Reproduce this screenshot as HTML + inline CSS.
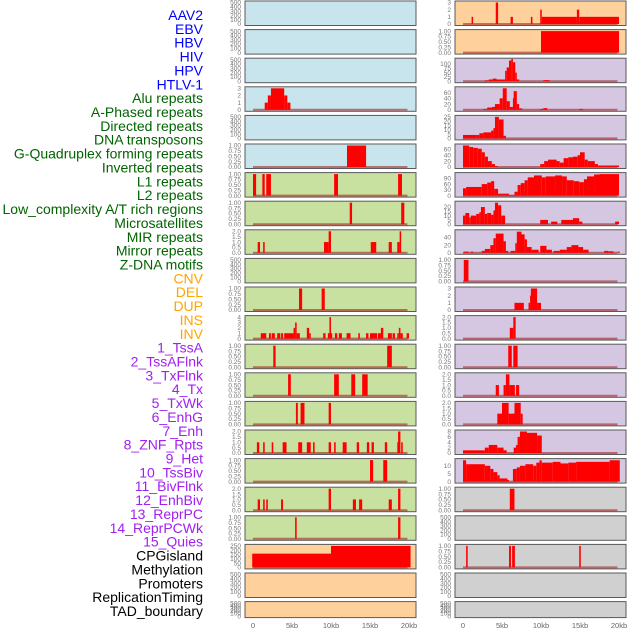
<!DOCTYPE html>
<html><head><meta charset="utf-8"><style>
html,body{margin:0;padding:0;background:#fff;}
svg{display:block;font-family:"Liberation Sans",sans-serif;}
</style></head><body>
<svg id="chart" width="630" height="630" viewBox="0 0 630 630" xmlns="http://www.w3.org/2000/svg">
<g id="labels"></g>
<g id="panels"></g>
<g id="xaxes"></g>
</svg>
<script>
const trackNames = ["AAV2","EBV","HBV","HIV","HPV","HTLV-1","Alu repeats","A-Phased repeats","Directed repeats","DNA transposons","G-Quadruplex forming repeats","Inverted repeats","L1 repeats","L2 repeats","Low_complexity A/T rich regions","Microsatellites","MIR repeats","Mirror repeats","Z-DNA motifs","CNV","DEL","DUP","INS","INV","1_TssA","2_TssAFlnk","3_TxFlnk","4_Tx","5_TxWk","6_EnhG","7_Enh","8_ZNF_Rpts","9_Het","10_TssBiv","11_BivFlnk","12_EnhBiv","13_ReprPC","14_ReprPCWk","15_Quies","CPGisland","Methylation","Promoters","ReplicationTiming","TAD_boundary"];
const trackColors = ["#0000ff","#006400","#ffa500","#a020f0","#000000"];
const trackGroup = [0,0,0,0,0,0,1,1,1,1,1,1,1,1,1,1,1,1,1,2,2,2,2,2,3,3,3,3,3,3,3,3,3,3,3,3,3,3,3,4,4,4,4,4];
const xTicks = [0,5,10,15,20];
const xTickLabels = ["0","5kb","10kb","15kb","20kb"];
const bgLeft = ["#c8e4ec","#c8e4ec","#c8e4ec","#c8e4ec","#c8e4ec","#c8e4ec","#c8e0a0","#c8e0a0","#c8e0a0","#c8e0a0","#c8e0a0","#c8e0a0","#c8e0a0","#c8e0a0","#c8e0a0","#c8e0a0","#c8e0a0","#c8e0a0","#c8e0a0","#fed09c","#fed09c","#fed09c"];
const bgRight = ["#fed09c","#fed09c","#d5c6e2","#d5c6e2","#d5c6e2","#d5c6e2","#d5c6e2","#d5c6e2","#d5c6e2","#d5c6e2","#d5c6e2","#d5c6e2","#d5c6e2","#d5c6e2","#d5c6e2","#d5c6e2","#d5c6e2","#d0d0d0","#d0d0d0","#d0d0d0","#d0d0d0","#d0d0d0"];
const T500=[0,100,200,300,400,500], T1=[0,0.25,0.5,0.75,1], T2=[0,0.5,1,1.5,2];
// per-panel y tick values [left column], [right column]
const ticksLeft = [T500,T500,T500,[0,1,2,3],T500,T1,T1,T1,T2,T500,T1,[0,1,2,3,4],T1,T1,T1,T2,T1,T2,T1,[0,50,100,150,200,250],T500,T500];
const ticksRight = [[0,1,2,3],T1,[0,25,50,75,100],[0,20,40,60],[0,5,10,15,20,25],[0,20,40,60],[0,30,60,90],[0,5,10,15,20],[0,20,40],T1,[0,1,2,3],T2,T1,T2,T2,[0,2,4,6,8],[0,5,10],T1,T500,T1,T500,T500];
const maxLeft = [500,500,500,3,500,1,1,1,2,500,1,4,1,1,1,2,1,2,1,250,500,500];
const maxRight = [3,1,125,75,25,73,112,25,56,1,3,2,1,2,2,8,13.6,1,500,1,500,500];
// segments [startKb, endKb, value]
const segsLeft = [
 [],[],[],
 [[1.5,1.9,1],[1.9,2.3,2],[2.3,4.0,3],[4.0,4.4,2],[4.4,4.8,1]],
 [],
 [[12.05,14.5,1]],
 [[0,0.4,1],[1.2,1.5,1],[1.7,2.3,1],[10.4,10.9,1],[18.6,19.1,1]],
 [[12.4,12.7,1],[19.0,19.4,1]],
 [[0.6,0.9,1],[1.3,1.5,1],[9.1,9.7,1],[9.7,10.0,2],[15.1,15.8,1],[17.4,17.8,1],[18.5,18.8,1],[18.8,19.0,2]],
 [],
 [[5.9,6.3,1],[8.8,9.2,1]],
 [[1.0,1.7,1],[2.05,2.3,1],[2.4,2.8,1],[3.1,3.5,1],[3.6,3.85,1],[4.0,5.2,1],[5.2,5.4,2],[5.4,5.6,3],[5.6,6.0,1],[6.9,7.2,2],[7.2,7.4,1],[9.0,9.3,1],[9.6,9.8,1],[9.8,10.0,4],[10.0,10.1,1],[10.5,10.8,1],[11.0,11.4,1],[12.0,12.5,1],[13.5,13.7,1],[14.5,14.8,1],[15.0,15.9,1],[16.0,16.4,1],[16.4,16.7,2],[17.3,17.8,1],[17.9,18.2,1],[18.5,18.7,1],[18.7,18.9,2],[18.9,19.2,1],[19.7,20.0,1]],
 [[2.6,2.9,1],[17.2,17.8,1]],
 [[4.5,4.85,1],[10.4,11.0,1],[12.6,13.1,1],[14.0,14.7,1]],
 [[5.5,5.75,1],[6.1,6.6,1],[9.7,10.0,1]],
 [[0.5,0.8,1],[1.3,1.5,1],[2.4,2.6,1],[3.8,4.3,1],[5.8,6.3,1],[6.9,7.4,1],[7.7,7.9,1],[9.7,10.0,1],[10.4,10.6,1],[11.5,12.0,1],[13.3,13.6,1],[14.6,14.9,1],[15.2,15.5,1],[16.9,17.2,1],[18.5,18.6,1],[18.6,18.9,2],[19.0,19.2,1]],
 [[15.0,15.4,1],[16.7,17.2,1]],
 [[0.6,0.9,1],[1.3,1.5,1],[1.7,1.9,1],[3.6,3.85,1],[9.7,10.0,2],[12.8,13.2,1],[13.6,14.0,1],[17.4,17.8,1],[18.6,18.9,2]],
 [[5.4,5.6,1],[18.6,18.9,1]],
 [[-0.1,10.0,160],[10.0,20.2,250]],
 [],[]
];
const segsRight = [
 [[1.1,1.3,1],[4.2,4.5,3],[6.1,6.4,1],[8.7,8.9,1],[9.9,10.1,2],[10.1,14.6,1],[14.6,14.9,2],[14.9,20.0,1]],
 [[10.0,20.0,1]],
 [[2.8,3.3,5],[3.3,3.8,10],[3.8,4.3,15],[4.3,5.4,10],[5.4,5.6,60],[5.6,5.9,80],[5.9,6.2,120],[6.2,6.4,130],[6.4,6.7,110],[6.7,6.9,50],[6.9,7.2,10],[10.3,11.1,6]],
 [[2.6,3.1,3],[3.1,3.7,8],[3.7,4.1,10],[4.1,4.7,20],[4.7,5.1,40],[5.1,5.6,75],[5.6,6.0,30],[6.0,6.4,10],[6.4,6.5,40],[6.5,6.9,65],[6.9,7.2,20],[7.2,7.6,5],[9.9,10.3,3],[10.3,10.8,6],[14.9,15.4,3]],
 [[0,1.7,4],[1.7,2.1,4],[2.1,2.6,6],[2.6,3.6,7],[3.6,3.9,9],[3.9,4.1,12],[4.1,4.6,25],[4.6,5.2,22],[5.2,5.5,3]],
 [[0,0.8,73],[0.8,1.3,68],[1.3,1.9,65],[1.9,2.4,62],[2.4,2.8,50],[2.8,3.2,35],[3.2,3.7,20],[3.7,4.1,10],[4.1,4.5,3],[9.9,10.4,10],[10.4,10.9,20],[10.9,12.0,25],[12.0,12.4,20],[12.4,12.9,15],[12.9,13.5,30],[13.5,14.1,33],[14.1,14.7,35],[14.7,15.0,40],[15.0,15.6,50],[15.6,16.0,25],[16.0,16.9,20],[16.9,17.3,10],[17.3,20.0,5]],
 [[0,0.4,38],[0.4,2.4,45],[2.4,3.1,60],[3.1,3.6,68],[3.6,4.0,75],[4.0,4.5,35],[4.5,5.9,10],[5.9,6.6,3],[6.6,7.0,20],[7.0,7.4,55],[7.4,7.9,65],[7.9,8.3,80],[8.3,9.1,95],[9.1,10.1,105],[10.1,10.6,95],[10.6,11.8,100],[11.8,12.7,105],[12.7,13.3,100],[13.3,14.2,80],[14.2,14.9,75],[14.9,15.5,70],[15.5,15.9,85],[15.9,16.8,100],[16.8,17.5,110],[17.5,20.0,112]],
 [[0,0.3,10],[0.3,0.8,13],[0.8,1.0,8],[1.0,1.7,10],[1.7,2.1,12],[2.1,2.3,14],[2.3,2.8,20],[2.8,3.1,12],[3.1,3.6,13],[3.6,3.9,11],[3.9,4.1,16],[4.1,4.5,25],[4.5,4.9,22],[4.9,5.4,10],[9.9,10.9,5],[11.3,12.1,3],[12.6,14.1,5],[14.1,14.9,7],[14.9,15.3,3],[19.5,20.0,3]],
 [[0.1,0.7,3],[1.0,1.3,3],[2.4,2.8,5],[2.8,3.5,10],[3.5,3.9,20],[3.9,4.2,38],[4.2,5.2,50],[5.2,5.5,30],[5.5,5.8,5],[6.1,6.7,5],[6.7,6.9,25],[6.9,7.5,55],[7.5,7.9,48],[7.9,8.2,35],[8.2,8.8,15],[8.8,9.7,8],[9.9,10.7,18],[10.7,11.4,8],[11.6,12.4,5],[12.4,13.3,8],[13.3,13.9,15],[13.9,14.8,20],[14.8,15.4,15],[15.4,16.1,8],[18.1,18.6,5],[18.6,19.3,4],[19.8,20.1,3]],
 [[0.1,0.7,1]],
 [[6.6,7.8,1],[8.4,8.6,1],[8.6,8.7,2],[8.7,9.5,3],[9.5,10.0,1]],
 [[6.0,6.45,1],[6.45,6.75,2]],
 [[5.8,6.25,1],[6.45,7.0,1]],
 [[4.2,4.6,1],[5.2,5.5,1],[5.5,5.95,2],[5.95,6.65,1],[6.8,7.2,1]],
 [[4.4,5.0,1],[5.0,5.85,2],[5.85,6.6,1],[6.6,7.4,2],[7.4,7.65,1]],
 [[0,2.8,1],[2.8,3.3,2],[3.3,4.4,3],[4.4,5.2,2],[5.2,5.6,1],[6.5,6.8,2],[6.8,7.0,3],[7.0,7.3,6],[7.3,8.2,8],[8.2,9.5,7.5],[9.5,10.1,6.5]],
 [[0,0.4,13.5],[0.4,2.8,11],[2.8,3.5,10],[3.5,3.9,8],[3.9,4.4,6],[4.4,4.7,4],[4.7,5.7,2],[5.7,5.9,1],[6.4,6.9,8],[6.9,7.3,9],[7.3,8.0,10],[8.0,9.0,11],[9.0,9.4,10],[9.4,9.8,12],[9.8,10.1,13.5],[10.1,11.5,12],[11.5,12.5,12.5],[12.5,13.5,11.5],[13.5,14.5,12],[14.5,18.8,12.5],[18.8,20.1,13.5]],
 [[6.0,6.6,1]],
 [],
 [[0.4,0.6,1],[5.9,6.15,1],[6.3,6.65,1],[14.9,15.1,1]],
 [],[]
];
const NS="http://www.w3.org/2000/svg";
function mk(tag, attrs, parent){const e=document.createElementNS(NS,tag);for(const k in attrs)e.setAttribute(k,attrs[k]);parent.appendChild(e);return e;}
const labelsG=document.getElementById('labels'), panelsG=document.getElementById('panels'), xG=document.getElementById('xaxes');
trackNames.forEach((n,i)=>{
  const t=mk('text',{x:203,y:15+i*13.86+5,'text-anchor':'end','font-size':'14',fill:trackColors[trackGroup[i]]},labelsG);
  t.textContent=n;
  
  
});
const cols=[{x0:245,w:171,bg:bgLeft,ticks:ticksLeft,max:maxLeft,segs:segsLeft,name:'left'},{x0:455,w:171,bg:bgRight,ticks:ticksRight,max:maxRight,segs:segsRight,name:'right'}];
cols.forEach(c=>{
  const xs=kb=>c.x0+8+kb*7.8;
  for(let r=0;r<22;r++){
    const top=1+r*28.6, h=(r===21)?16:24.5;
    const g=mk('g',{},panelsG);
    
    
    mk('rect',{x:c.x0,y:top,width:c.w,height:h,fill:c.bg[r],stroke:'#5a5a5a','stroke-width':1},g);
    const y0=top+h-1.5, y1=top+1.5;
    const ys=v=>y0-(v/c.max[r])*(y0-y1);
    c.ticks[r].forEach(tv=>{
      const t=mk('text',{x:c.x0-4,y:ys(tv)+2.2,'text-anchor':'end','font-size':'6.5',fill:'#777'},g);
      t.textContent=(c.ticks[r]===T1)?tv.toFixed(2):(c.ticks[r]===T2?tv.toFixed(1):String(tv));
      
      
    });
    const segs=c.segs[r];
    if(segs.length){
      const bl=mk('line',{x1:xs(0),x2:xs(19.8),y1:y0,y2:y0,stroke:'rgba(160,20,20,0.55)','stroke-width':2},g);
      
      
      segs.forEach(s=>{
        const b=mk('rect',{x:xs(s[0]),y:ys(s[2]),width:Math.max(1.2,xs(s[1])-xs(s[0])),height:y0-ys(s[2]),fill:'#ff0000'},g);
        
        
      });
    }
  }
  xTicks.forEach((v,i)=>{
    const t=mk('text',{x:xs(v),y:628,'text-anchor':'middle','font-size':'7.5',fill:'#666'},xG);
    t.textContent=xTickLabels[i];
    
    
  });
});
</script>
</body></html>
